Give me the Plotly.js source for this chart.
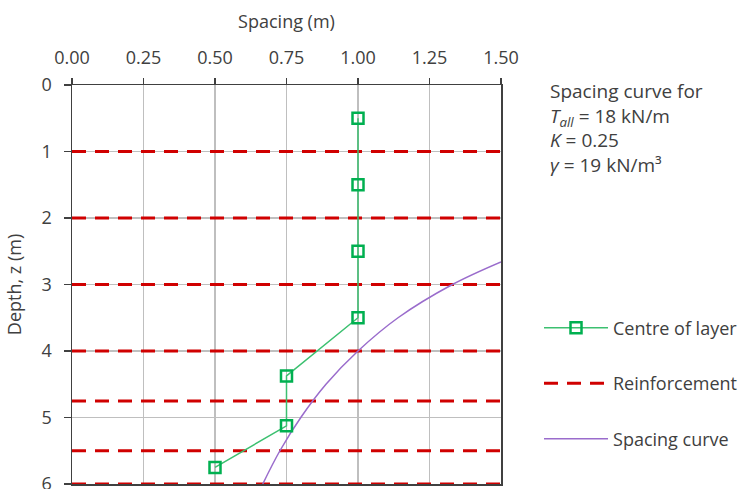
<!DOCTYPE html>
<html>
<head>
<meta charset="utf-8">
<script src="https://cdn.plot.ly/plotly-3.0.1.min.js"></script>
<style>html,body{margin:0;padding:0;background:#fff;}#chart{width:742px;height:489px;}</style>
</head>
<body>
<div id="chart"></div>
<script>
// Centre of layer points
var layerDepth = [0.5, 1.5, 2.5, 3.5, 4.375, 5.125, 5.75];
var layerSpacing = [1.0, 1.0, 1.0, 1.0, 0.75, 0.75, 0.5];
// Reinforcement depths
var reinfDepth = [1, 2, 3, 4, 4.75, 5.5, 6];
var reinfSpan = [0, 1.5];
// Spacing curve
var curveDepth = [2.66, 3.0, 3.5, 4.0, 4.5, 5.0, 5.5, 6.0];
var curveSpacing = [1.50, 1.33, 1.14, 1.0, 0.888, 0.80, 0.727, 0.667];
// Tick labels
var xTicks = [0, 0.25, 0.5, 0.75, 1.0, 1.25, 1.5];
var yTicks = [0, 1, 2, 3, 4, 5, 6];
// Note text lines
var noteLines = [
  'Spacing curve for',
  '<i>T</i><sub><i>all</i></sub> = 18 kN/m',
  '<i>K</i> = 0.25',
  '<i>γ</i> = 19 kN/m³'
];

var rx = [], ry = [];
reinfDepth.forEach(function (d) {
  rx.push(reinfSpan[0], reinfSpan[1], null);
  ry.push(d, d, null);
});

var fontFam = '"Open Sans", "Noto Sans", sans-serif';
var txtCol = '#404040';
var fs = 18;

var traces = [
  {
    x: rx, y: ry, mode: 'lines', name: 'Reinforcement', legendgroup: 'b', legendrank: 2,
    line: {color: '#d00000', width: 3, dash: '14px,9px'}
  },
  {
    x: curveSpacing, y: curveDepth, mode: 'lines', name: 'Spacing curve', legendgroup: 'c', legendrank: 3,
    line: {color: '#9a6ccc', width: 1.5, shape: 'spline'}
  },
  {
    x: layerSpacing, y: layerDepth, mode: 'lines+markers', name: 'Centre of layer',
    legendgroup: 'a', legendrank: 1,
    line: {color: '#3cc070', width: 1.5},
    marker: {symbol: 'square-open', size: 11, color: '#00b050', line: {width: 2.5, color: '#00b050'}}
  }
];

var layout = {
  width: 742, height: 489,
  margin: {l: 72, r: 241, t: 85, b: 5, autoexpand: false},
  paper_bgcolor: '#fff', plot_bgcolor: '#fff',
  font: {family: fontFam, size: fs, color: txtCol},
  showlegend: true,
  legend: {
    x: 1.0886, xanchor: 'left', y: 0.437, yanchor: 'top',
    traceorder: 'grouped', tracegroupgap: 29, itemwidth: 64,
    font: {size: fs, color: txtCol}, bgcolor: 'rgba(0,0,0,0)'
  },
  xaxis: {
    side: 'top', range: [0, 1.5], tickvals: xTicks, tickformat: '.2f',
    showgrid: true, gridcolor: '#bfbfbf', gridwidth: 1.5,
    showline: true, linecolor: '#404040', linewidth: 1.5, mirror: true,
    ticks: 'outside', ticklen: 6, tickcolor: '#404040', tickwidth: 1.5,
    ticklabelstandoff: 6, ticklabeloverflow: 'allow',
    zeroline: false,
    title: {text: 'Spacing (m)', font: {size: fs, color: txtCol}, standoff: 12},
    tickfont: {size: fs, color: txtCol}
  },
  yaxis: {
    range: [6, 0], tickvals: yTicks,
    showgrid: true, gridcolor: '#bfbfbf', gridwidth: 1.5,
    showline: true, linecolor: '#404040', linewidth: 1.5, mirror: true,
    ticks: 'outside', ticklen: 7, tickcolor: '#404040', tickwidth: 1.5,
    ticklabelstandoff: 8, ticklabeloverflow: 'allow',
    zeroline: false,
    title: {text: 'Depth, z (m)', font: {size: fs, color: txtCol}, standoff: 15},
    tickfont: {size: fs, color: txtCol}
  },
  annotations: [
    {xref: 'paper', yref: 'paper', x: 1.1096, y: 1.0225, xanchor: 'left', yanchor: 'top', align: 'left',
     showarrow: false, text: noteLines.join('<br>'), font: {size: 19, color: txtCol}}
  ]
};

Plotly.newPlot('chart', traces, layout, {displayModeBar: false, staticPlot: true});
</script>
</body>
</html>
